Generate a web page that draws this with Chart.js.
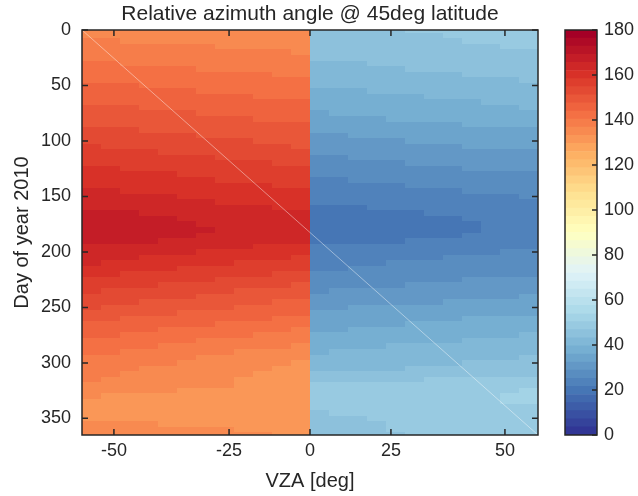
<!DOCTYPE html>
<html><head><meta charset="utf-8">
<script src="https://cdn.jsdelivr.net/npm/chart.js@4.4.0/dist/chart.umd.min.js"></script>
<style>
html,body{margin:0;padding:0;background:#fff;}
#wrap{position:relative;width:638px;height:496px;}
#main{position:absolute;left:0;top:0;}
#cb{position:absolute;left:540px;top:0;}
</style></head><body>
<div id="wrap"><canvas id="main" width="638" height="496"></canvas><canvas id="cb" width="98" height="496"></canvas></div>
<script>
// ---- data ----
const dayOfYear = [0,5,10,15,20,25,30,35,40,45,50,55,60,65,70,75,80,85,90,95,100,105,110,115,120,125,130,135,140,145,150,155,160,165,170,175,180,185,190,195,200,205,210,215,220,225,230,235,240,245,250,255,260,265,270,275,280,285,290,295,300,305,310,315,320,325,330,335,340,345,350,355,360,365];
// relative azimuth angle, negative-VZA columns (far west -> nadir), one row per day
const raaWest = [
[135.1,135.0,134.9,134.8,134.7,134.6,134.5,134.4,134.3,134.2,134.1,134.0],
[136.0,135.9,135.7,135.6,135.5,135.4,135.2,135.1,135.0,134.9,134.7,134.6],
[137.0,136.8,136.7,136.5,136.4,136.2,136.1,135.9,135.8,135.6,135.5,135.3],
[137.9,137.7,137.6,137.4,137.2,137.0,136.9,136.7,136.5,136.3,136.2,136.0],
[138.9,138.7,138.5,138.3,138.1,137.9,137.7,137.5,137.3,137.1,136.9,136.7],
[139.8,139.6,139.4,139.1,138.9,138.7,138.5,138.3,138.1,137.8,137.6,137.4],
[140.8,140.6,140.3,140.1,139.9,139.6,139.4,139.1,138.9,138.7,138.4,138.2],
[141.7,141.5,141.2,141.0,140.7,140.5,140.2,140.0,139.7,139.5,139.2,139.0],
[142.7,142.4,142.2,141.9,141.7,141.4,141.2,140.9,140.7,140.4,140.2,139.9],
[143.6,143.3,143.1,142.8,142.5,142.3,142.0,141.8,141.5,141.2,141.0,140.7],
[144.6,144.3,144.1,143.8,143.5,143.2,143.0,142.7,142.4,142.1,141.9,141.6],
[145.5,145.2,144.9,144.7,144.4,144.1,143.8,143.5,143.2,143.0,142.7,142.4],
[146.5,146.2,145.9,145.6,145.3,145.0,144.8,144.5,144.2,143.9,143.6,143.3],
[147.4,147.1,146.8,146.5,146.2,145.9,145.7,145.4,145.1,144.8,144.5,144.2],
[148.4,148.1,147.8,147.5,147.2,146.9,146.5,146.2,145.9,145.6,145.3,145.0],
[149.3,149.0,148.7,148.4,148.1,147.8,147.4,147.1,146.8,146.5,146.2,145.9],
[150.3,150.0,149.7,149.3,149.0,148.7,148.4,148.1,147.8,147.4,147.1,146.8],
[151.2,150.9,150.5,150.2,149.9,149.6,149.2,148.9,148.6,148.3,147.9,147.6],
[152.2,151.9,151.5,151.2,150.9,150.5,150.2,149.8,149.5,149.2,148.8,148.5],
[153.1,152.8,152.4,152.1,151.8,151.4,151.1,150.7,150.4,150.1,149.7,149.4],
[154.1,153.7,153.4,153.0,152.7,152.3,152.0,151.6,151.3,150.9,150.6,150.2],
[155.0,154.6,154.3,153.9,153.6,153.2,152.9,152.5,152.2,151.8,151.5,151.1],
[156.0,155.6,155.3,154.9,154.5,154.2,153.8,153.5,153.1,152.7,152.4,152.0],
[156.9,156.6,156.2,155.9,155.6,155.2,154.9,154.5,154.2,153.9,153.5,153.2],
[157.9,157.6,157.3,156.9,156.6,156.3,156.0,155.7,155.4,155.0,154.7,154.4],
[158.8,158.5,158.2,157.9,157.6,157.3,156.9,156.6,156.3,156.0,155.7,155.4],
[159.8,159.5,159.1,158.8,158.5,158.2,157.8,157.5,157.2,156.9,156.5,156.2],
[160.7,160.4,160.0,159.7,159.4,159.0,158.7,158.3,158.0,157.7,157.3,157.0],
[161.7,161.3,161.0,160.6,160.3,159.9,159.6,159.2,158.9,158.5,158.2,157.8],
[162.6,162.2,161.9,161.5,161.1,160.8,160.4,160.1,159.7,159.3,159.0,158.6],
[163.6,163.2,162.9,162.5,162.1,161.7,161.4,161.0,160.6,160.2,159.9,159.5],
[164.5,164.1,163.8,163.4,163.0,162.6,162.3,161.9,161.5,161.1,160.8,160.4],
[165.5,165.1,164.7,164.4,164.0,163.6,163.2,162.8,162.4,162.1,161.7,161.3],
[166.6,166.2,165.8,165.4,165.0,164.6,164.1,163.7,163.3,162.9,162.5,162.1],
[167.6,167.2,166.7,166.3,165.8,165.4,164.9,164.5,164.0,163.6,163.1,162.7],
[168.2,167.7,167.3,166.8,166.3,165.9,165.4,164.9,164.5,164.0,163.6,163.1],
[168.3,167.8,167.4,166.9,166.5,166.0,165.6,165.1,164.7,164.2,163.8,163.3],
[167.9,167.5,167.0,166.6,166.2,165.7,165.3,164.9,164.4,164.0,163.5,163.1],
[166.8,166.4,166.0,165.6,165.2,164.8,164.3,163.9,163.5,163.1,162.7,162.3],
[165.3,164.9,164.5,164.1,163.7,163.3,163.0,162.6,162.2,161.8,161.4,161.0],
[164.1,163.7,163.3,162.9,162.5,162.1,161.6,161.2,160.8,160.4,160.0,159.6],
[163.1,162.7,162.2,161.8,161.3,160.9,160.4,160.0,159.5,159.1,158.6,158.2],
[162.3,161.8,161.3,160.8,160.3,159.8,159.3,158.8,158.3,157.8,157.3,156.8],
[160.5,160.0,159.6,159.1,158.6,158.2,157.7,157.3,156.8,156.3,155.9,155.4],
[159.2,158.7,158.3,157.8,157.3,156.8,156.4,155.9,155.4,154.9,154.5,154.0],
[157.6,157.1,156.7,156.2,155.8,155.3,154.9,154.4,154.0,153.5,153.1,152.6],
[156.2,155.7,155.3,154.8,154.4,153.9,153.5,153.0,152.6,152.1,151.7,151.2],
[155.0,154.5,154.1,153.6,153.1,152.6,152.2,151.7,151.2,150.7,150.3,149.8],
[153.9,153.4,152.9,152.4,151.9,151.4,150.9,150.4,149.9,149.4,148.9,148.4],
[152.7,152.2,151.7,151.1,150.6,150.1,149.6,149.1,148.6,148.0,147.5,147.0],
[151.4,150.9,150.3,149.8,149.3,148.8,148.2,147.7,147.2,146.7,146.1,145.6],
[150.0,149.5,149.0,148.4,147.9,147.4,146.9,146.4,145.9,145.3,144.8,144.3],
[148.5,148.0,147.5,147.0,146.5,146.0,145.5,145.0,144.5,144.0,143.5,143.0],
[147.0,146.5,146.0,145.5,145.0,144.5,144.1,143.6,143.1,142.6,142.1,141.6],
[145.8,145.3,144.8,144.3,143.8,143.3,142.8,142.3,141.8,141.3,140.8,140.3],
[144.5,144.0,143.5,143.0,142.5,142.0,141.5,141.0,140.5,140.0,139.5,139.0],
[143.4,142.9,142.4,141.8,141.3,140.8,140.3,139.8,139.3,138.7,138.2,137.7],
[142.2,141.7,141.1,140.6,140.1,139.5,139.0,138.4,137.9,137.4,136.8,136.3],
[141.0,140.4,139.9,139.3,138.8,138.2,137.7,137.1,136.6,136.0,135.5,134.9],
[139.9,139.3,138.8,138.2,137.6,137.0,136.5,135.9,135.3,134.7,134.2,133.6],
[139.1,138.5,137.9,137.4,136.8,136.2,135.6,135.0,134.4,133.9,133.3,132.7],
[138.4,137.8,137.3,136.7,136.1,135.6,135.0,134.5,133.9,133.3,132.8,132.2],
[137.7,137.2,136.6,136.1,135.6,135.1,134.5,134.0,133.5,133.0,132.4,131.9],
[137.0,136.5,136.1,135.6,135.1,134.6,134.2,133.7,133.2,132.7,132.3,131.8],
[135.8,135.4,135.1,134.7,134.3,134.0,133.6,133.3,132.9,132.5,132.2,131.8],
[134.4,134.2,133.9,133.7,133.5,133.2,133.0,132.7,132.5,132.3,132.0,131.8],
[133.3,133.2,133.0,132.9,132.8,132.6,132.5,132.4,132.2,132.1,131.9,131.8],
[132.8,132.7,132.6,132.6,132.5,132.4,132.3,132.2,132.1,132.1,132.0,131.9],
[132.6,132.5,132.5,132.4,132.4,132.3,132.3,132.2,132.2,132.1,132.1,132.0],
[132.7,132.7,132.6,132.6,132.5,132.5,132.4,132.4,132.3,132.3,132.2,132.2],
[133.0,132.9,132.9,132.8,132.8,132.7,132.7,132.6,132.6,132.5,132.5,132.4],
[133.5,133.4,133.3,133.3,133.2,133.1,133.0,132.9,132.8,132.8,132.7,132.6],
[134.3,134.2,134.0,133.9,133.8,133.6,133.5,133.4,133.2,133.1,132.9,132.8],
[135.1,134.9,134.7,134.5,134.3,134.1,134.0,133.8,133.6,133.4,133.2,133.0]
];
// relative azimuth angle, positive-VZA columns (nadir -> far east), one row per day
const raaEast = [
[45.6,45.9,46.2,46.4,46.7,47.0,47.2,47.5,47.8,48.1,48.3,48.6],
[45.2,45.5,45.8,46.0,46.3,46.6,46.8,47.1,47.4,47.7,47.9,48.2],
[44.7,45.0,45.3,45.5,45.8,46.1,46.3,46.6,46.9,47.2,47.4,47.7],
[44.2,44.5,44.8,45.0,45.3,45.6,45.8,46.1,46.4,46.7,46.9,47.2],
[43.7,44.0,44.3,44.5,44.8,45.1,45.3,45.6,45.9,46.2,46.4,46.7],
[43.2,43.5,43.8,44.0,44.3,44.6,44.8,45.1,45.4,45.7,45.9,46.2],
[42.5,42.8,43.1,43.3,43.6,43.9,44.1,44.4,44.7,45.0,45.2,45.5],
[41.8,42.1,42.4,42.6,42.9,43.2,43.4,43.7,44.0,44.3,44.5,44.8],
[41.0,41.3,41.6,41.8,42.1,42.4,42.6,42.9,43.2,43.5,43.7,44.0],
[40.3,40.6,40.9,41.1,41.4,41.7,41.9,42.2,42.5,42.8,43.0,43.3],
[39.6,39.9,40.2,40.4,40.7,41.0,41.2,41.5,41.8,42.1,42.3,42.6],
[38.8,39.1,39.4,39.6,39.9,40.2,40.4,40.7,41.0,41.3,41.5,41.8],
[38.1,38.4,38.7,38.9,39.2,39.5,39.7,40.0,40.3,40.6,40.8,41.1],
[37.3,37.6,37.9,38.1,38.4,38.7,38.9,39.2,39.5,39.8,40.0,40.3],
[36.6,36.9,37.2,37.4,37.7,38.0,38.2,38.5,38.8,39.1,39.3,39.6],
[35.8,36.1,36.4,36.6,36.9,37.2,37.4,37.7,38.0,38.3,38.5,38.8],
[34.9,35.2,35.5,35.7,36.0,36.3,36.5,36.8,37.1,37.4,37.6,37.9],
[33.9,34.2,34.5,34.7,35.0,35.3,35.5,35.8,36.1,36.4,36.6,36.9],
[32.9,33.2,33.5,33.7,34.0,34.3,34.5,34.8,35.1,35.4,35.6,35.9],
[32.0,32.3,32.6,32.8,33.1,33.4,33.6,33.9,34.2,34.5,34.7,35.0],
[31.1,31.4,31.7,31.9,32.2,32.5,32.7,33.0,33.3,33.6,33.8,34.1],
[30.2,30.5,30.8,31.0,31.3,31.6,31.8,32.1,32.4,32.7,32.9,33.2],
[29.3,29.6,29.9,30.1,30.4,30.7,30.9,31.2,31.5,31.8,32.0,32.3],
[28.4,28.7,29.0,29.2,29.5,29.8,30.0,30.3,30.6,30.9,31.1,31.4],
[27.5,27.8,28.1,28.3,28.6,28.9,29.1,29.4,29.7,30.0,30.2,30.5],
[26.6,26.9,27.2,27.4,27.7,28.0,28.2,28.5,28.8,29.1,29.3,29.6],
[25.7,26.0,26.3,26.5,26.8,27.1,27.3,27.6,27.9,28.2,28.4,28.7],
[24.8,25.1,25.4,25.6,25.9,26.2,26.4,26.7,27.0,27.3,27.5,27.8],
[24.0,24.3,24.6,24.8,25.1,25.4,25.6,25.9,26.2,26.5,26.7,27.0],
[23.2,23.5,23.8,24.0,24.3,24.6,24.8,25.1,25.4,25.7,25.9,26.2],
[22.4,22.7,23.0,23.2,23.5,23.8,24.0,24.3,24.6,24.9,25.1,25.4],
[21.6,21.9,22.2,22.4,22.7,23.0,23.2,23.5,23.8,24.1,24.3,24.6],
[20.8,21.1,21.4,21.6,21.9,22.2,22.4,22.7,23.0,23.3,23.5,23.8],
[20.1,20.4,20.7,20.9,21.2,21.5,21.7,22.0,22.3,22.6,22.8,23.1],
[19.6,19.9,20.2,20.4,20.7,21.0,21.2,21.5,21.8,22.1,22.3,22.6],
[19.3,19.6,19.9,20.1,20.4,20.7,20.9,21.2,21.5,21.8,22.0,22.3],
[19.3,19.6,19.9,20.1,20.4,20.7,20.9,21.2,21.5,21.8,22.0,22.3],
[19.6,19.9,20.2,20.4,20.7,21.0,21.2,21.5,21.8,22.1,22.3,22.6],
[20.4,20.7,21.0,21.2,21.5,21.8,22.0,22.3,22.6,22.9,23.1,23.4],
[21.6,21.9,22.2,22.4,22.7,23.0,23.2,23.5,23.8,24.1,24.3,24.6],
[22.5,22.8,23.1,23.3,23.6,23.9,24.1,24.4,24.7,25.0,25.2,25.5],
[23.3,23.6,23.9,24.1,24.4,24.7,24.9,25.2,25.5,25.8,26.0,26.3],
[24.1,24.4,24.7,24.9,25.2,25.5,25.7,26.0,26.3,26.6,26.8,27.1],
[24.8,25.1,25.4,25.6,25.9,26.2,26.4,26.7,27.0,27.3,27.5,27.8],
[25.6,25.9,26.2,26.4,26.7,27.0,27.2,27.5,27.8,28.1,28.3,28.6],
[26.6,26.9,27.2,27.4,27.7,28.0,28.2,28.5,28.8,29.1,29.3,29.6],
[27.6,27.9,28.2,28.4,28.7,29.0,29.2,29.5,29.8,30.1,30.3,30.6],
[28.6,28.9,29.2,29.4,29.7,30.0,30.2,30.5,30.8,31.1,31.3,31.6],
[29.6,29.9,30.2,30.4,30.7,31.0,31.2,31.5,31.8,32.1,32.3,32.6],
[30.7,31.0,31.3,31.5,31.8,32.1,32.3,32.6,32.9,33.2,33.4,33.7],
[31.8,32.1,32.4,32.6,32.9,33.2,33.4,33.7,34.0,34.3,34.5,34.8],
[32.8,33.1,33.4,33.6,33.9,34.2,34.4,34.7,35.0,35.3,35.5,35.8],
[33.8,34.1,34.4,34.6,34.9,35.2,35.4,35.7,36.0,36.3,36.5,36.8],
[34.7,35.0,35.3,35.5,35.8,36.1,36.3,36.6,36.9,37.2,37.4,37.7],
[35.6,35.9,36.2,36.4,36.7,37.0,37.2,37.5,37.8,38.1,38.3,38.6],
[36.6,36.9,37.2,37.4,37.7,38.0,38.2,38.5,38.8,39.1,39.3,39.6],
[37.5,37.8,38.1,38.3,38.6,38.9,39.1,39.4,39.7,40.0,40.2,40.5],
[38.5,38.8,39.1,39.3,39.6,39.9,40.1,40.4,40.7,41.0,41.2,41.5],
[39.4,39.7,40.0,40.2,40.5,40.8,41.0,41.3,41.6,41.9,42.1,42.4],
[40.3,40.6,40.9,41.1,41.4,41.7,41.9,42.2,42.5,42.8,43.0,43.3],
[41.2,41.5,41.8,42.0,42.3,42.6,42.8,43.1,43.4,43.7,43.9,44.2],
[42.0,42.3,42.6,42.8,43.1,43.4,43.6,43.9,44.2,44.5,44.7,45.0],
[43.5,43.8,44.1,44.3,44.6,44.9,45.1,45.4,45.7,46.0,46.2,46.5],
[45.3,45.6,45.9,46.1,46.4,46.7,46.9,47.2,47.5,47.8,48.0,48.3],
[47.0,47.3,47.6,47.8,48.1,48.4,48.6,48.9,49.2,49.5,49.7,50.0],
[47.5,47.8,48.1,48.3,48.6,48.9,49.1,49.4,49.7,50.0,50.2,50.5],
[47.7,48.0,48.3,48.5,48.8,49.1,49.3,49.6,49.9,50.2,50.4,50.7],
[47.7,48.0,48.3,48.5,48.8,49.1,49.3,49.6,49.9,50.2,50.4,50.7],
[47.3,47.6,47.9,48.1,48.4,48.7,48.9,49.2,49.5,49.8,50.0,50.3],
[46.6,46.9,47.2,47.4,47.7,48.0,48.2,48.5,48.8,49.1,49.3,49.6],
[46.2,46.5,46.8,47.0,47.3,47.6,47.8,48.1,48.4,48.7,48.9,49.2],
[46.0,46.3,46.6,46.8,47.1,47.4,47.6,47.9,48.2,48.5,48.7,49.0],
[45.8,46.1,46.4,46.6,46.9,47.2,47.4,47.7,48.0,48.3,48.5,48.8],
[45.6,45.9,46.2,46.4,46.7,47.0,47.2,47.5,47.8,48.1,48.3,48.6]
];
// x axis: scan columns (24), with VZA tick labels at their column positions
const xTickPos = [1.68, 7.74, 12, 16.26, 22.26];
const xTickLabels = ['-50', '-25', '0', '25', '50'];
const yTickValues = [0, 50, 100, 150, 200, 250, 300, 350];
const cbTickValues = [0, 20, 40, 60, 80, 100, 120, 140, 160, 180];
// faint diagonal artefact line present in the figure
const diagX = [0, 24];
const diagDay = [0, 365];
// colormap (RdYlBu reversed), 50 discrete levels over 0..180
const rdYlBuStops = ['#313695','#4575b4','#74add1','#abd9e9','#e0f3f8','#ffffbf','#fee090','#fdae61','#f46d43','#d73027','#a50026'];
const zMin = 0, zMax = 180, nLevels = 50;

// ---- helpers ----
const FONT = '"Liberation Sans", Arial, Helvetica, sans-serif';
const TXT = '#262626';
function hex2rgb(h){return [parseInt(h.substr(1,2),16),parseInt(h.substr(3,2),16),parseInt(h.substr(5,2),16)];}
const stopsRGB = rdYlBuStops.map(hex2rgb);
function cmap(t){
  const p = Math.max(0, Math.min(1, t)) * (stopsRGB.length - 1);
  const i = Math.min(stopsRGB.length - 2, Math.floor(p));
  const f = p - i;
  const a = stopsRGB[i], b = stopsRGB[i+1];
  return 'rgb(' + [0,1,2].map(k => Math.round(a[k] + (b[k]-a[k])*f)).join(',') + ')';
}
const levelStep = (zMax - zMin) / nLevels;
const levelColors = Array.from({length:nLevels}, (_, k) => cmap(k / (nLevels - 1)));
function colorFor(v){
  const k = Math.max(0, Math.min(nLevels - 1, Math.floor((v - zMin) / levelStep)));
  return levelColors[k];
}

const heatmap = {
  id: 'heatmap',
  beforeDatasetsDraw(chart){
    const {ctx, chartArea: a, scales: {x, y}} = chart;
    ctx.save();
    ctx.beginPath(); ctx.rect(a.left, a.top, a.width, a.height); ctx.clip();
    for (let i = 0; i < dayOfYear.length; i++){
      const d = dayOfYear[i];
      const ya = Math.round(y.getPixelForValue(Math.max(0, d - 2.5)));
      const yb = Math.round(y.getPixelForValue(Math.min(365, d + 2.5)));
      const row = raaWest[i].concat(raaEast[i]);
      for (let j = 0; j < row.length; j++){
        const xa = Math.round(x.getPixelForValue(j));
        const xb = Math.round(x.getPixelForValue(j + 1));
        ctx.fillStyle = colorFor(row[j]);
        ctx.fillRect(xa, Math.min(ya, yb), xb - xa, Math.abs(yb - ya));
      }
    }
    ctx.restore();
  }
};

const frame = {
  id: 'frame',
  afterDraw(chart){
    const {ctx, chartArea: a, scales: {x, y}} = chart;
    ctx.save();
    ctx.strokeStyle = TXT; ctx.lineWidth = 1.5;
    const L = 6;
    ctx.beginPath();
    x.ticks.forEach(t => {
      const px = x.getPixelForValue(t.value);
      ctx.moveTo(px, a.bottom); ctx.lineTo(px, a.bottom - L);
      ctx.moveTo(px, a.top); ctx.lineTo(px, a.top + L);
    });
    y.ticks.forEach(t => {
      const py = y.getPixelForValue(t.value);
      ctx.moveTo(a.left, py); ctx.lineTo(a.left + L, py);
      ctx.moveTo(a.right, py); ctx.lineTo(a.right - L, py);
    });
    ctx.stroke();
    ctx.strokeRect(a.left, a.top, a.width, a.height);
    ctx.restore();
  }
};

new Chart(document.getElementById('main'), {
  type: 'scatter',
  data: {datasets: [{
    data: diagX.map((v, i) => ({x: v, y: diagDay[i]})),
    showLine: true, borderColor: 'rgba(255,255,255,0.55)', borderWidth: 0.8,
    pointRadius: 0, pointHoverRadius: 0, fill: false
  }]},
  options: {
    responsive: false, animation: false, devicePixelRatio: 1,
    layout: {padding: {left: 0, right: 100, top: 0, bottom: 0}},
    plugins: {
      legend: {display: false}, tooltip: {enabled: false},
      title: {display: true, text: 'Relative azimuth angle @ 45deg latitude', color: TXT,
        font: {family: FONT, size: 21, weight: 'normal'}, padding: {top: 2, bottom: 2.8}, fullSize: false}
    },
    scales: {
      x: {
        type: 'linear', min: 0, max: 24,
        afterBuildTicks: s => { s.ticks = xTickPos.map(v => ({value: v})); },
        ticks: {callback: (v, i) => xTickLabels[i], color: TXT, font: {family: FONT, size: 18}, padding: 5, maxRotation: 0, autoSkip: false},
        grid: {display: false, drawTicks: false}, border: {display: false},
        title: {display: true, text: 'VZA [deg]', color: TXT, font: {family: FONT, size: 20}, padding: {top: 0, bottom: 3}},
        afterFit: s => { s.height = 61; }
      },
      y: {
        type: 'linear', reverse: true, min: 0, max: 365,
        afterBuildTicks: s => { s.ticks = yTickValues.map(v => ({value: v})); },
        ticks: {color: TXT, font: {family: FONT, size: 18}, padding: 11, autoSkip: false},
        grid: {display: false, drawTicks: false}, border: {display: false},
        title: {display: true, text: 'Day of year 2010', color: TXT, font: {family: FONT, size: 20}, padding: {top: 10, bottom: 0}},
        afterFit: s => { s.width = 82; }
      }
    }
  },
  plugins: [heatmap, frame]
});

// ---- colorbar ----
const cbFrame = {
  id: 'cbFrame',
  afterDraw(chart){
    const {ctx, chartArea: a, scales: {y}} = chart;
    ctx.save();
    ctx.strokeStyle = TXT; ctx.lineWidth = 1.5;
    ctx.beginPath();
    y.ticks.forEach(t => {
      const py = y.getPixelForValue(t.value);
      ctx.moveTo(a.right, py); ctx.lineTo(a.right - 5, py);
    });
    ctx.stroke();
    ctx.strokeRect(a.left, a.top, a.width, a.height);
    ctx.restore();
  }
};
new Chart(document.getElementById('cb'), {
  type: 'bar',
  data: {
    labels: ['RAA'],
    datasets: levelColors.map((c, k) => ({
      data: [[zMin + k * levelStep, zMin + (k + 1) * levelStep]],
      backgroundColor: c, borderColor: c, borderWidth: 0,
      barPercentage: 1, categoryPercentage: 1, grouped: false
    }))
  },
  options: {
    responsive: false, animation: false, devicePixelRatio: 1,
    layout: {padding: {left: 25, right: 0, top: 30, bottom: 61}},
    plugins: {legend: {display: false}, tooltip: {enabled: false}},
    scales: {
      x: {display: false},
      y: {
        position: 'right', min: zMin, max: zMax,
        afterBuildTicks: s => { s.ticks = cbTickValues.map(v => ({value: v})); },
        ticks: {color: TXT, font: {family: FONT, size: 18}, padding: 7, autoSkip: false},
        grid: {display: false, drawTicks: false}, border: {display: false},
        afterFit: s => { s.width = 41; }
      }
    }
  },
  plugins: [cbFrame]
});
</script>
</body></html>
